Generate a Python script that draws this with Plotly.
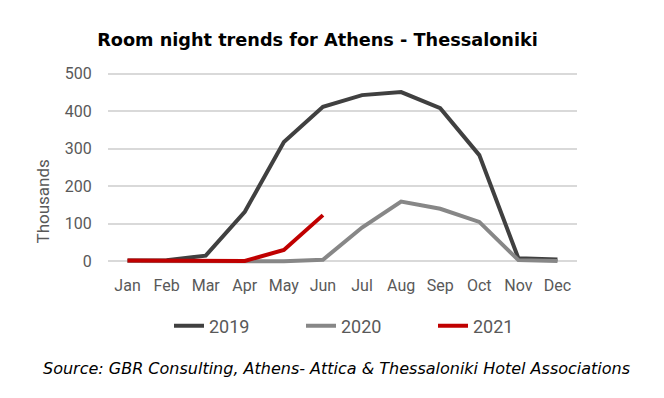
import plotly.graph_objects as go

months = ["Jan", "Feb", "Mar", "Apr", "May", "Jun", "Jul", "Aug", "Sep", "Oct", "Nov", "Dec"]
y2019 = [2, 3, 15, 132, 318, 412, 443, 451, 408, 283, 8, 5]
y2020 = [1, 1, 2, 0, 0, 4, 90, 159, 140, 105, 3, 1]
y2021 = [2, 2, 2, 1, 30, 123]
yticks = [0, 100, 200, 300, 400, 500]

# page body adds an 8px offset, so the figure is drawn 8px smaller
OFF = 8
W, H = 664 - OFF, 398 - OFF
L, R, T, B = 108 - OFF, 577 - OFF, 70 - OFF, 265 - OFF

def px(x):
    return (x - OFF - L) / (R - L)

def py(y):
    return (B - (y - OFF)) / (B - T)

fig = go.Figure()
series = [("2019", y2019, "#404040"), ("2020", y2020, "#878787"), ("2021", y2021, "#c00000")]
for name, vals, col in series:
    fig.add_trace(go.Scatter(
        x=list(range(len(vals))), y=vals, name=name, mode="lines",
        line=dict(color=col, width=4)))

tickfont = dict(family="Roboto, Open Sans, sans-serif", size=16, color="#595959")
legfont = dict(family="Roboto, Open Sans, sans-serif", size=18, color="#595959")
fig.update_layout(
    width=W, height=H,
    margin=dict(l=L, r=W - R, t=T, b=H - B, pad=0),
    plot_bgcolor="white", paper_bgcolor="white",
    title=dict(text="<b>Room night trends for Athens - Thessaloniki</b>",
               x=(317.5 - OFF) / W, xanchor="center", y=1 - (40 - OFF) / H, yanchor="middle",
               font=dict(family="DejaVu Sans, Verdana, sans-serif", size=17.7, color="black")),
    xaxis=dict(range=[-0.5, 11.5], tickvals=list(range(12)), ticktext=months,
               showgrid=False, zeroline=False, showline=False, tickfont=tickfont,
               ticks="outside", ticklen=6, tickcolor="rgba(0,0,0,0)"),
    yaxis=dict(range=[-10, 510], tickvals=yticks, showgrid=True, gridcolor="#d9d9d9",
               gridwidth=1.5, zeroline=False, showline=False, tickfont=tickfont,
               ticks="outside", ticklen=12, tickcolor="rgba(0,0,0,0)"),
    legend=dict(orientation="h", x=px(169), xanchor="left", y=py(326),
                yanchor="middle", entrywidth=87, entrywidthmode="pixels",
                font=legfont, traceorder="normal"),
    showlegend=True,
)
fig.add_annotation(text="Thousands", textangle=-90, xref="paper", yref="paper",
                   x=px(42.5), y=py(202),
                   xanchor="center", yanchor="middle", showarrow=False,
                   font=dict(family="Roboto, Open Sans, sans-serif", size=17, color="#595959"))
fig.add_annotation(text="<i>Source: GBR Consulting, Athens- Attica &amp; Thessaloniki Hotel Associations</i>",
                   xref="paper", yref="paper",
                   x=px(336), y=py(368),
                   xanchor="center", yanchor="middle", showarrow=False,
                   font=dict(family="DejaVu Sans, Verdana, sans-serif", size=16, color="black"))
fig.write_html("out.html")
